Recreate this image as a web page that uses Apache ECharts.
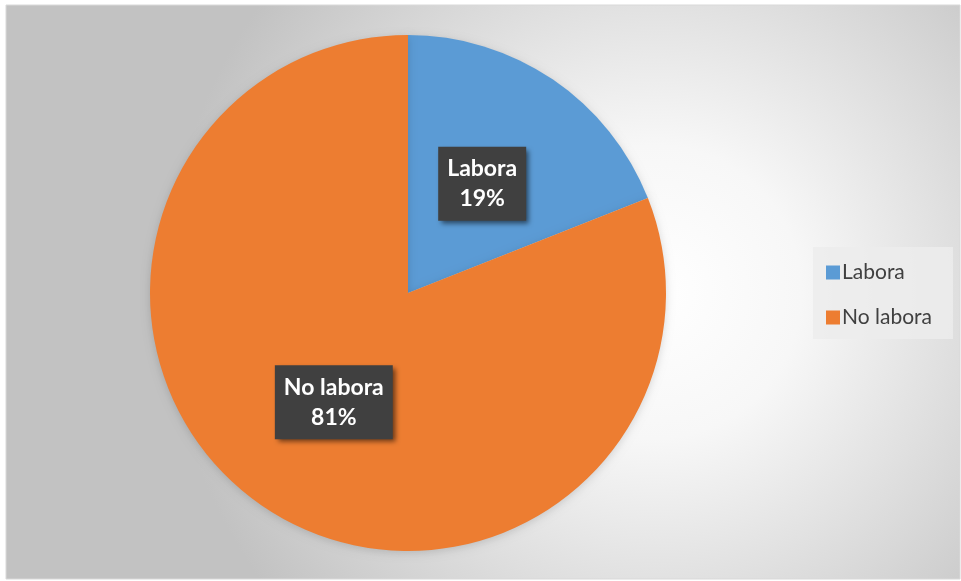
<!DOCTYPE html>
<html><head><meta charset="utf-8">
<script src="https://cdn.jsdelivr.net/npm/echarts@6/dist/echarts.min.js"></script>
<style>html,body{margin:0;padding:0;background:#fff}#c{width:961px;height:581px}</style>
</head><body><div id="c"></div>
<script>
const categories = ['Labora', 'No labora'];
const values = [19, 81];
const colors = ['#5B9BD5', '#ED7D31'];

const chart = echarts.init(document.getElementById('c'), null, {renderer: 'canvas'});
chart.setOption({
  animation: false,
  backgroundColor: '#ffffff',
  graphic: [{
    type: 'rect', z: -10, silent: true,
    shape: {x: 6, y: 5, width: 954, height: 574},
    style: {
      fill: new echarts.graphic.RadialGradient(0.68, 0.5, 0.85, [
        {offset: 0, color: '#ffffff'},
        {offset: 0.3, color: '#f7f7f7'},
        {offset: 1, color: '#c2c2c2'}
      ]),
      stroke: '#d9d9d9', lineWidth: 1
    }
  }, {
    type: 'rect', z: -5, silent: true,
    shape: {x: 813, y: 247, width: 140, height: 92},
    style: {fill: 'rgba(236,236,236,0.85)'}
  }],
  legend: {
    orient: 'vertical',
    left: 821, top: 257,
    itemWidth: 14, itemHeight: 14, itemGap: 24,
    icon: 'rect',
    textStyle: {fontFamily: 'Lato, "Open Sans", sans-serif', fontSize: 21, color: '#404040', padding: [0, 0, 0, -3]},
    data: categories
  },
  series: [{
    type: 'pie',
    center: [408, 293],
    radius: [0, 258],
    startAngle: 90,
    clockwise: true,
    label: {
      show: true,
      position: 'inside',
      formatter: p => p.name + '\n' + Math.round(p.percent) + '%',
      fontFamily: 'Lato, "Open Sans", sans-serif',
      fontWeight: 'bold',
      fontSize: 23,
      lineHeight: 30,
      color: '#ffffff',
      backgroundColor: '#404040',
      padding: [7, 9, 7, 9],
      shadowColor: 'rgba(0,0,0,0.55)',
      shadowBlur: 5,
      shadowOffsetX: 3,
      shadowOffsetY: 3
    },
    labelLine: {show: false},
    itemStyle: {borderWidth: 0, shadowColor: 'rgba(0,0,0,0.15)', shadowBlur: 8, shadowOffsetY: 2},
    emphasis: {disabled: true},
    data: categories.map((c, i) => ({name: c, value: values[i], itemStyle: {color: colors[i]}}))
  }]
});
</script></body></html>
